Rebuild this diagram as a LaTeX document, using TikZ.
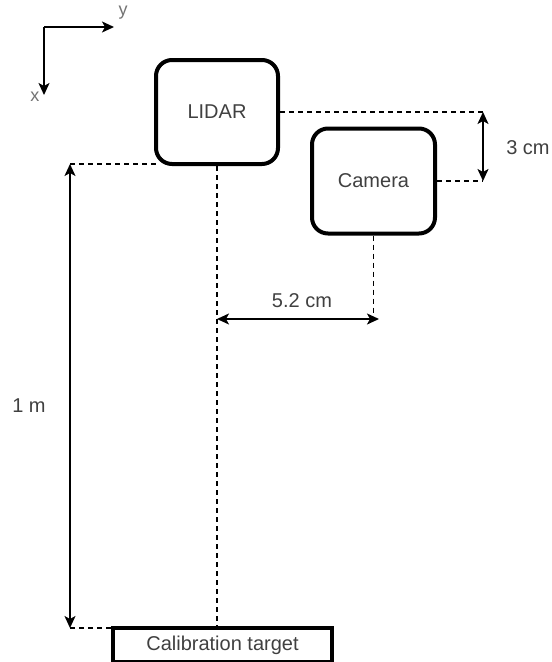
\documentclass[tikz,border=0pt]{standalone}
\usepackage{fontspec}
\setmainfont{Liberation Sans}
\usetikzlibrary{arrows.meta}
\usetikzlibrary{positioning}

\tikzset{
  device/.style={draw, line width=4pt, rounded corners=16pt, minimum width=122pt,
    minimum height=104pt, text=black!75, font=\fontsize{20}{24}\selectfont},
  guide/.style={draw, line width=1.3pt, dash pattern=on 5pt off 4pt},
  dimarrow/.style={draw, line width=1.6pt, {Stealth[length=12pt,width=11pt,inset=3pt]}-{Stealth[length=12pt,width=11pt,inset=3pt]}},
  axisarrow/.style={draw, line width=1.6pt, -{Stealth[length=12pt,width=11pt,inset=3pt]}},
  dimlabel/.style={text=black!75, font=\fontsize{20}{24}\selectfont},
  axislabel/.style={text=black!55, font=\fontsize{18}{20}\selectfont}
}

\begin{document}
\begin{tikzpicture}[x=1pt,y=-1pt]
  \useasboundingbox (0,0) rectangle (552,662);

  % axes
  \coordinate (org) at (44,27);
  \coordinate (ytip) at (114,27);
  \coordinate (xtip) at (44,95);
  \draw[axisarrow] (org) -- (ytip);
  \draw[axisarrow] (org) -- (xtip);
  \node[axislabel] (ylab) at (123,13) {y};
  \node[axislabel] (xlab) at (35,97) {x};

  % devices
  \node[device] (lidar) at (217,112) {LIDAR};
  \node[device, minimum width=123pt, minimum height=105pt] (camera) at (373.5,181) {Camera};
  \node[draw, line width=4pt, minimum width=219pt, minimum height=34pt,
    text=black!75, font=\fontsize{20}{24}\selectfont] (target) at (222.5,645) {Calibration target};

  % guides
  \coordinate (topr) at (483,112);
  \coordinate (botr) at (483,181);
  \draw[guide] (lidar.east) -- (topr);
  \draw[guide] (camera.east) -- (botr);
  \draw[dimarrow] (topr) -- (botr);
  \node[dimlabel] (d3) at (528,148) {3 cm};

  \coordinate (ltop) at (70,164);
  \coordinate (lbot) at (70,628);
  \draw[guide] (lidar.south) -- (lidar.south |- target.north);
  \draw[guide] (ltop) -- ([xshift=5pt]lidar.south west |- ltop);
  \draw[guide] (lbot) -- (lbot -| target.west);
  \draw[dimarrow] (ltop) -- (lbot);
  \node[dimlabel] (d1) at (29,406) {1 m};

  \coordinate (hl) at (217,319);
  \coordinate (hr) at (379,319);
  \draw[guide] (camera.south) -- (camera.south |- hl);
  \draw[dimarrow] (hl) -- (hr);
  \node[dimlabel] (d52) at (302,301) {5.2 cm};
\end{tikzpicture}
\end{document}
